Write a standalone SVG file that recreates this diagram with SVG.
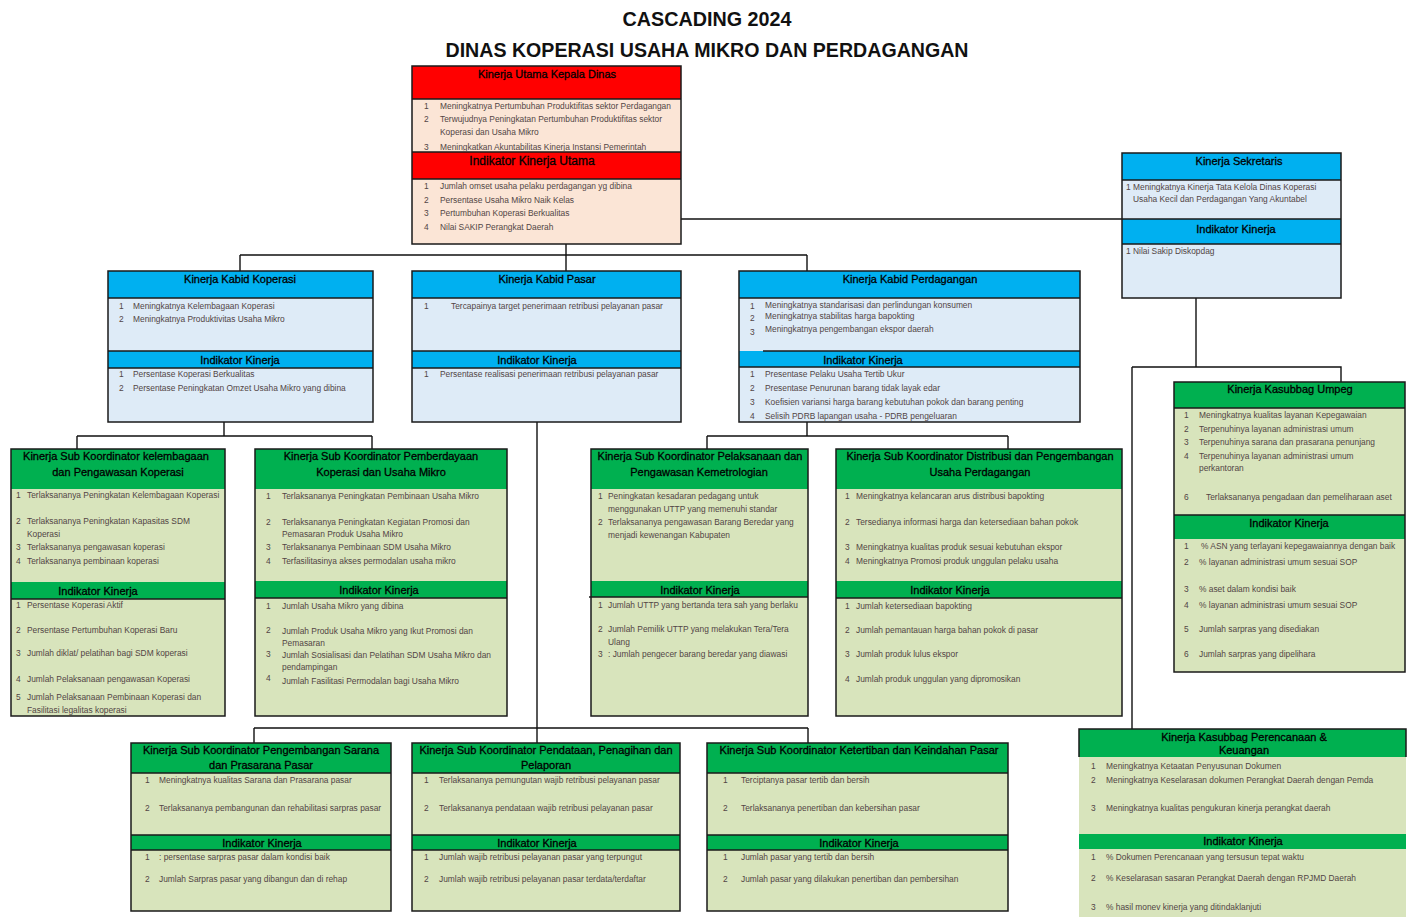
<svg xmlns="http://www.w3.org/2000/svg" width="1413" height="917" viewBox="0 0 1413 917">
<style>
.bg{fill:#ffffff}
.hr{fill:#ff0000}
.br{fill:#fbe5d6}
.hb{fill:#00b0f0}
.bb{fill:#deebf7}
.hg{fill:#00b050}
.bgr{fill:#d8e4bc}
.box{fill:none;stroke:#1a1a1a;stroke-width:1.5}
.sep{stroke:#1a1a1a;stroke-width:1.5}
.title{font-family:"Liberation Sans",Arial,sans-serif;font-weight:bold;font-size:20px;fill:#111;text-anchor:middle;dominant-baseline:central}
.h{font-family:"Liberation Sans",Arial,sans-serif;font-size:11px;fill:#000;stroke:#000;stroke-width:0.3;text-anchor:middle;dominant-baseline:central}
.t{font-family:"Liberation Sans",Arial,sans-serif;font-size:8.4px;fill:#524545;dominant-baseline:central}
.conn{stroke:#111;stroke-width:1.4;fill:none}
</style>
<rect class="bg" x="0" y="0" width="1413" height="917"/>

<g id="title">
<text class="title" x="707" y="19" textLength="169" lengthAdjust="spacingAndGlyphs">CASCADING 2024</text>
<text class="title" x="707" y="50" textLength="523" lengthAdjust="spacingAndGlyphs">DINAS KOPERASI USAHA MIKRO DAN PERDAGANGAN</text>
</g>

<g id="connectors">
<path class="conn" d="M681,219 H1122"/>
<path class="conn" d="M566,244 V271 M240,255 H807 M240,255 V271 M807,255 V271"/>
<path class="conn" d="M224,422 V436 M77,436 H372 M77,436 V449 M372,436 V449"/>
<path class="conn" d="M537,422 V743 M254,728 H808 M254,728 V743 M808,728 V743"/>
<path class="conn" d="M807,422 V436 M707,436 H1008 M707,436 V449 M1008,436 V449"/>
<path class="conn" d="M1196,298 V367 M1132,367 H1341 V382 M1132,367 V729"/>
</g>

<g id="kepala-dinas">
<rect class="hr" x="412" y="66" width="269" height="33"/>
<rect class="br" x="412" y="99" width="269" height="53"/>
<rect class="hr" x="412" y="152" width="269" height="27"/>
<rect class="br" x="412" y="179" width="269" height="65"/>
<rect class="box" x="412" y="66" width="269" height="178"/>
<path class="sep" d="M412,99 H681 M412,152 H681 M412,179 H681"/>
<text class="h" x="547" y="74">Kinerja Utama Kepala Dinas</text>
<text class="t" x="424" y="106">1</text><text class="t" x="440" y="106">Meningkatnya Pertumbuhan Produktifitas sektor Perdagangan</text>
<text class="t" x="424" y="119">2</text><text class="t" x="440" y="119">Terwujudnya Peningkatan Pertumbuhan Produktifitas sektor</text>
<text class="t" x="440" y="132">Koperasi dan Usaha Mikro</text>
<text class="t" x="424" y="147">3</text><text class="t" x="440" y="147">Meningkatkan Akuntabilitas Kinerja Instansi Pemerintah</text>
<text class="h" x="532" y="161" style="font-size:12px">Indikator Kinerja Utama</text>
<text class="t" x="424" y="186">1</text><text class="t" x="440" y="186">Jumlah omset usaha pelaku perdagangan yg dibina</text>
<text class="t" x="424" y="200">2</text><text class="t" x="440" y="200">Persentase Usaha Mikro Naik Kelas</text>
<text class="t" x="424" y="213">3</text><text class="t" x="440" y="213">Pertumbuhan Koperasi Berkualitas</text>
<text class="t" x="424" y="227">4</text><text class="t" x="440" y="227">Nilai SAKIP Perangkat Daerah</text>
</g>

<g id="sekretaris">
<rect class="hb" x="1122" y="153" width="219" height="27"/>
<rect class="bb" x="1122" y="180" width="219" height="39"/>
<rect class="hb" x="1122" y="219" width="219" height="25"/>
<rect class="bb" x="1122" y="244" width="219" height="54"/>
<rect class="box" x="1122" y="153" width="219" height="145"/>
<path class="sep" d="M1122,180 H1341 M1122,219 H1341 M1122,244 H1341"/>
<text class="h" x="1239" y="161">Kinerja Sekretaris</text>
<text class="t" x="1126" y="187">1</text><text class="t" x="1133" y="187">Meningkatnya Kinerja Tata Kelola Dinas Koperasi</text>
<text class="t" x="1133" y="199">Usaha Kecil dan Perdagangan Yang Akuntabel</text>
<text class="h" x="1236" y="229">Indikator Kinerja</text>
<text class="t" x="1126" y="251">1</text><text class="t" x="1133" y="251">Nilai Sakip Diskopdag</text>
</g>

<g id="kabid-koperasi">
<rect class="hb" x="108" y="271" width="265" height="27"/>
<rect class="bb" x="108" y="298" width="265" height="53"/>
<rect class="hb" x="108" y="351" width="265" height="17"/>
<rect class="bb" x="108" y="368" width="265" height="54"/>
<rect class="box" x="108" y="271" width="265" height="151"/>
<path class="sep" d="M108,298 H373 M108,351 H373 M108,368 H373"/>
<text class="h" x="240" y="279">Kinerja Kabid Koperasi</text>
<text class="t" x="119" y="306">1</text><text class="t" x="133" y="306">Meningkatnya Kelembagaan Koperasi</text>
<text class="t" x="119" y="319">2</text><text class="t" x="133" y="319">Meningkatnya Produktivitas Usaha Mikro</text>
<text class="h" x="240" y="360">Indikator Kinerja</text>
<text class="t" x="119" y="374">1</text><text class="t" x="133" y="374">Persentase Koperasi Berkualitas</text>
<text class="t" x="119" y="388">2</text><text class="t" x="133" y="388">Persentase Peningkatan Omzet Usaha Mikro yang dibina</text>
</g>

<g id="kabid-pasar">
<rect class="hb" x="412" y="271" width="269" height="27"/>
<rect class="bb" x="412" y="298" width="269" height="53"/>
<rect class="hb" x="412" y="351" width="269" height="17"/>
<rect class="bb" x="412" y="368" width="269" height="54"/>
<rect class="box" x="412" y="271" width="269" height="151"/>
<path class="sep" d="M412,298 H681 M412,351 H681 M412,368 H681"/>
<text class="h" x="547" y="279">Kinerja Kabid Pasar</text>
<text class="t" x="424" y="306">1</text><text class="t" x="451" y="306">Tercapainya target penerimaan retribusi pelayanan pasar</text>
<text class="h" x="537" y="360">Indikator Kinerja</text>
<text class="t" x="424" y="374">1</text><text class="t" x="440" y="374">Persentase realisasi penerimaan retribusi pelayanan pasar</text>
</g>

<g id="kabid-perdagangan">
<rect class="hb" x="739" y="271" width="341" height="27"/>
<rect class="bb" x="739" y="298" width="341" height="53"/>
<rect class="hb" x="739" y="351" width="341" height="16"/>
<rect class="bb" x="739" y="367" width="341" height="55"/>
<rect class="box" x="739" y="271" width="341" height="151"/>
<path class="sep" d="M739,298 H1080 M763,351 H1080 M739,367 H1080"/>
<text class="h" x="910" y="279">Kinerja Kabid Perdagangan</text>
<text class="t" x="750" y="306">1</text><text class="t" x="765" y="305">Meningkatnya standarisasi dan perlindungan konsumen</text>
<text class="t" x="750" y="318">2</text><text class="t" x="765" y="316">Meningkatnya stabilitas harga bapokting</text>
<text class="t" x="750" y="332">3</text><text class="t" x="765" y="329">Meningkatnya pengembangan ekspor daerah</text>
<text class="h" x="863" y="360">Indikator Kinerja</text>
<text class="t" x="750" y="374">1</text><text class="t" x="765" y="374">Presentase Pelaku Usaha Tertib Ukur</text>
<text class="t" x="750" y="388">2</text><text class="t" x="765" y="388">Presentase Penurunan barang tidak layak edar</text>
<text class="t" x="750" y="402">3</text><text class="t" x="765" y="402">Koefisien variansi harga barang kebutuhan pokok dan barang penting</text>
<text class="t" x="750" y="416">4</text><text class="t" x="765" y="416">Selisih PDRB lapangan usaha - PDRB pengeluaran</text>
</g>

<g id="kasubbag-umpeg">
<rect class="hg" x="1174" y="382" width="231" height="26"/>
<rect class="bgr" x="1174" y="408" width="231" height="107"/>
<rect class="hg" x="1174" y="515" width="231" height="24"/>
<rect class="bgr" x="1174" y="539" width="231" height="133"/>
<rect class="box" x="1174" y="382" width="231" height="290"/>
<path class="sep" d="M1174,408 H1405 M1174,515 H1405"/>
<text class="h" x="1290" y="389">Kinerja Kasubbag Umpeg</text>
<text class="t" x="1184" y="415">1</text><text class="t" x="1199" y="415">Meningkatnya kualitas layanan Kepegawaian</text>
<text class="t" x="1184" y="429">2</text><text class="t" x="1199" y="429">Terpenuhinya layanan administrasi umum</text>
<text class="t" x="1184" y="442">3</text><text class="t" x="1199" y="442">Terpenuhinya sarana dan prasarana penunjang</text>
<text class="t" x="1184" y="456">4</text><text class="t" x="1199" y="456">Terpenuhinya layanan administrasi umum</text>
<text class="t" x="1199" y="468">perkantoran</text>
<text class="t" x="1184" y="497">6</text><text class="t" x="1206" y="497">Terlaksananya pengadaan dan pemeliharaan aset</text>
<text class="h" x="1289" y="523">Indikator Kinerja</text>
<text class="t" x="1184" y="546">1</text><text class="t" x="1201" y="546">% ASN yang terlayani kepegawaiannya dengan baik</text>
<text class="t" x="1184" y="562">2</text><text class="t" x="1199" y="562">% layanan administrasi umum sesuai SOP</text>
<text class="t" x="1184" y="589">3</text><text class="t" x="1199" y="589">% aset dalam kondisi baik</text>
<text class="t" x="1184" y="605">4</text><text class="t" x="1199" y="605">% layanan administrasi umum sesuai SOP</text>
<text class="t" x="1184" y="629">5</text><text class="t" x="1199" y="629">Jumlah sarpras yang disediakan</text>
<text class="t" x="1184" y="654">6</text><text class="t" x="1199" y="654">Jumlah sarpras yang dipelihara</text>
</g>

<g id="sub-kelembagaan">
<rect class="hg" x="11" y="449" width="214" height="40"/>
<rect class="bgr" x="11" y="489" width="214" height="93"/>
<rect class="hg" x="11" y="582" width="214" height="17"/>
<rect class="bgr" x="11" y="599" width="214" height="117"/>
<rect class="box" x="11" y="449" width="214" height="267"/>
<path class="sep" d="M11,599 H225"/>
<text class="h" x="116" y="456">Kinerja Sub Koordinator kelembagaan</text>
<text class="h" x="118" y="472">dan Pengawasan Koperasi</text>
<text class="t" x="16" y="495">1</text><text class="t" x="27" y="495">Terlaksananya Peningkatan Kelembagaan Koperasi</text>
<text class="t" x="16" y="521">2</text><text class="t" x="27" y="521">Terlaksananya Peningkatan Kapasitas SDM</text>
<text class="t" x="27" y="534">Koperasi</text>
<text class="t" x="16" y="547">3</text><text class="t" x="27" y="547">Terlaksananya pengawasan koperasi</text>
<text class="t" x="16" y="561">4</text><text class="t" x="27" y="561">Terlaksananya pembinaan koperasi</text>
<text class="h" x="98" y="591">Indikator Kinerja</text>
<text class="t" x="16" y="605">1</text><text class="t" x="27" y="605">Persentase Koperasi Aktif</text>
<text class="t" x="16" y="630">2</text><text class="t" x="27" y="630">Persentase Pertumbuhan Koperasi Baru</text>
<text class="t" x="16" y="653">3</text><text class="t" x="27" y="653">Jumlah diklat/ pelatihan bagi SDM koperasi</text>
<text class="t" x="16" y="679">4</text><text class="t" x="27" y="679">Jumlah Pelaksanaan pengawasan Koperasi</text>
<text class="t" x="16" y="697">5</text><text class="t" x="27" y="697">Jumlah Pelaksanaan Pembinaan Koperasi dan</text>
<text class="t" x="27" y="710">Fasilitasi legalitas koperasi</text>
</g>

<g id="sub-pemberdayaan">
<rect class="hg" x="255" y="449" width="252" height="40"/>
<rect class="bgr" x="255" y="489" width="252" height="92"/>
<rect class="hg" x="255" y="581" width="252" height="17"/>
<rect class="bgr" x="255" y="598" width="252" height="118"/>
<rect class="box" x="255" y="449" width="252" height="267"/>
<path class="sep" d="M255,598 H507"/>
<text class="h" x="381" y="456">Kinerja Sub Koordinator Pemberdayaan</text>
<text class="h" x="381" y="472">Koperasi dan Usaha Mikro</text>
<text class="t" x="266" y="496">1</text><text class="t" x="282" y="496">Terlaksananya Peningkatan Pembinaan Usaha Mikro</text>
<text class="t" x="266" y="522">2</text><text class="t" x="282" y="522">Terlaksananya Peningkatan Kegiatan Promosi dan</text>
<text class="t" x="282" y="534">Pemasaran Produk Usaha Mikro</text>
<text class="t" x="266" y="547">3</text><text class="t" x="282" y="547">Terlaksananya Pembinaan SDM Usaha Mikro</text>
<text class="t" x="266" y="561">4</text><text class="t" x="282" y="561">Terfasilitasinya akses permodalan usaha mikro</text>
<text class="h" x="379" y="590">Indikator Kinerja</text>
<text class="t" x="266" y="606">1</text><text class="t" x="282" y="606">Jumlah Usaha Mikro yang dibina</text>
<text class="t" x="266" y="630">2</text><text class="t" x="282" y="631">Jumlah Produk Usaha Mikro yang Ikut Promosi dan</text>
<text class="t" x="282" y="643">Pemasaran</text>
<text class="t" x="266" y="654">3</text><text class="t" x="282" y="655">Jumlah Sosialisasi dan Pelatihan SDM Usaha Mikro dan</text>
<text class="t" x="282" y="667">pendampingan</text>
<text class="t" x="266" y="678">4</text><text class="t" x="282" y="681">Jumlah Fasilitasi Permodalan bagi Usaha Mikro</text>
</g>

<g id="sub-kemetrologian">
<rect class="hg" x="591" y="449" width="217" height="40"/>
<rect class="bgr" x="591" y="489" width="217" height="92"/>
<rect class="hg" x="591" y="581" width="217" height="16"/>
<rect class="bgr" x="591" y="597" width="217" height="119"/>
<rect class="box" x="591" y="449" width="217" height="267"/>
<path class="sep" d="M589,597 H808"/>
<text class="h" x="700" y="456">Kinerja Sub Koordinator Pelaksanaan dan</text>
<text class="h" x="699" y="472">Pengawasan Kemetrologian</text>
<text class="t" x="598" y="496">1</text><text class="t" x="608" y="496">Peningkatan kesadaran pedagang untuk</text>
<text class="t" x="608" y="509">menggunakan UTTP yang memenuhi standar</text>
<text class="t" x="598" y="522">2</text><text class="t" x="608" y="522">Terlaksananya pengawasan Barang Beredar yang</text>
<text class="t" x="608" y="535">menjadi kewenangan Kabupaten</text>
<text class="h" x="700" y="590">Indikator Kinerja</text>
<text class="t" x="598" y="605">1</text><text class="t" x="608" y="605">Jumlah UTTP yang bertanda tera sah yang berlaku</text>
<text class="t" x="598" y="629">2</text><text class="t" x="608" y="629">Jumlah Pemilik UTTP yang melakukan Tera/Tera</text>
<text class="t" x="608" y="642">Ulang</text>
<text class="t" x="598" y="654">3</text><text class="t" x="608" y="654">: Jumlah pengecer barang beredar yang diawasi</text>
</g>

<g id="sub-distribusi">
<rect class="hg" x="836" y="449" width="286" height="40"/>
<rect class="bgr" x="836" y="489" width="286" height="92"/>
<rect class="hg" x="836" y="581" width="286" height="17"/>
<rect class="bgr" x="836" y="598" width="286" height="118"/>
<rect class="box" x="836" y="449" width="286" height="267"/>
<path class="sep" d="M836,598 H1122"/>
<text class="h" x="980" y="456">Kinerja Sub Koordinator Distribusi dan Pengembangan</text>
<text class="h" x="980" y="472">Usaha Perdagangan</text>
<text class="t" x="845" y="496">1</text><text class="t" x="856" y="496">Meningkatnya kelancaran arus distribusi bapokting</text>
<text class="t" x="845" y="522">2</text><text class="t" x="856" y="522">Tersedianya informasi harga dan ketersediaan bahan pokok</text>
<text class="t" x="845" y="547">3</text><text class="t" x="856" y="547">Meningkatnya kualitas produk sesuai kebutuhan ekspor</text>
<text class="t" x="845" y="561">4</text><text class="t" x="856" y="561">Meningkatnya Promosi produk unggulan pelaku usaha</text>
<text class="h" x="950" y="590">Indikator Kinerja</text>
<text class="t" x="845" y="606">1</text><text class="t" x="856" y="606">Jumlah ketersediaan bapokting</text>
<text class="t" x="845" y="630">2</text><text class="t" x="856" y="630">Jumlah pemantauan harga bahan pokok di pasar</text>
<text class="t" x="845" y="654">3</text><text class="t" x="856" y="654">Jumlah produk lulus ekspor</text>
<text class="t" x="845" y="679">4</text><text class="t" x="856" y="679">Jumlah produk unggulan yang dipromosikan</text>
</g>

<g id="sub-sarana-pasar">
<rect class="hg" x="131" y="743" width="260" height="30"/>
<rect class="bgr" x="131" y="773" width="260" height="62"/>
<rect class="hg" x="131" y="835" width="260" height="15"/>
<rect class="bgr" x="131" y="850" width="260" height="61"/>
<rect class="box" x="131" y="743" width="260" height="168"/>
<path class="sep" d="M131,773 H391 M131,835 H391 M131,850 H391"/>
<text class="h" x="261" y="750">Kinerja Sub Koordinator Pengembangan Sarana</text>
<text class="h" x="261" y="765">dan Prasarana Pasar</text>
<text class="t" x="145" y="780">1</text><text class="t" x="159" y="780">Meningkatnya kualitas Sarana dan Prasarana pasar</text>
<text class="t" x="145" y="808">2</text><text class="t" x="159" y="808">Terlaksananya pembangunan dan rehabilitasi sarpras pasar</text>
<text class="h" x="262" y="843">Indikator Kinerja</text>
<text class="t" x="145" y="857">1</text><text class="t" x="159" y="857">: persentase sarpras pasar dalam kondisi baik</text>
<text class="t" x="145" y="879">2</text><text class="t" x="159" y="879">Jumlah Sarpras pasar yang dibangun dan di rehap</text>
</g>

<g id="sub-pendataan">
<rect class="hg" x="412" y="743" width="268" height="30"/>
<rect class="bgr" x="412" y="773" width="268" height="62"/>
<rect class="hg" x="412" y="835" width="268" height="15"/>
<rect class="bgr" x="412" y="850" width="268" height="61"/>
<rect class="box" x="412" y="743" width="268" height="168"/>
<path class="sep" d="M412,773 H680 M412,835 H680 M412,850 H680"/>
<text class="h" x="546" y="750">Kinerja Sub Koordinator Pendataan, Penagihan dan</text>
<text class="h" x="546" y="765">Pelaporan</text>
<text class="t" x="424" y="780">1</text><text class="t" x="439" y="780">Terlaksananya pemungutan wajib retribusi pelayanan pasar</text>
<text class="t" x="424" y="808">2</text><text class="t" x="439" y="808">Terlaksananya pendataan wajib retribusi pelayanan pasar</text>
<text class="h" x="537" y="843">Indikator Kinerja</text>
<text class="t" x="424" y="857">1</text><text class="t" x="439" y="857">Jumlah wajib retribusi pelayanan pasar yang terpungut</text>
<text class="t" x="424" y="879">2</text><text class="t" x="439" y="879">Jumlah wajib retribusi pelayanan pasar terdata/terdaftar</text>
</g>

<g id="sub-ketertiban">
<rect class="hg" x="707" y="743" width="301" height="30"/>
<rect class="bgr" x="707" y="773" width="301" height="62"/>
<rect class="hg" x="707" y="835" width="301" height="15"/>
<rect class="bgr" x="707" y="850" width="301" height="61"/>
<rect class="box" x="707" y="743" width="301" height="168"/>
<path class="sep" d="M707,773 H1008 M707,835 H1008 M707,850 H1008"/>
<text class="h" x="859" y="750">Kinerja Sub Koordinator Ketertiban dan Keindahan Pasar</text>
<text class="t" x="723" y="780">1</text><text class="t" x="741" y="780">Terciptanya pasar tertib dan bersih</text>
<text class="t" x="723" y="808">2</text><text class="t" x="741" y="808">Terlaksananya penertiban dan kebersihan pasar</text>
<text class="h" x="859" y="843">Indikator Kinerja</text>
<text class="t" x="723" y="857">1</text><text class="t" x="741" y="857">Jumlah pasar yang tertib dan bersih</text>
<text class="t" x="723" y="879">2</text><text class="t" x="741" y="879">Jumlah pasar yang dilakukan penertiban dan pembersihan</text>
</g>

<g id="kasubbag-perencanaan">
<rect class="hg" x="1079" y="729" width="327" height="28"/>
<rect class="bgr" x="1079" y="757" width="327" height="77"/>
<rect class="hg" x="1079" y="834" width="327" height="15"/>
<rect class="bgr" x="1079" y="849" width="327" height="68"/>
<path class="box" d="M1079,757 V729 H1406 V757"/>
<text class="h" x="1244" y="737">Kinerja Kasubbag Perencanaan &amp;</text>
<text class="h" x="1244" y="750">Keuangan</text>
<text class="t" x="1091" y="766">1</text><text class="t" x="1106" y="766">Meningkatnya Ketaatan Penyusunan Dokumen</text>
<text class="t" x="1091" y="780">2</text><text class="t" x="1106" y="780">Meningkatnya Keselarasan dokumen Perangkat Daerah dengan Pemda</text>
<text class="t" x="1091" y="808">3</text><text class="t" x="1106" y="808">Meningkatnya kualitas pengukuran kinerja perangkat daerah</text>
<text class="h" x="1243" y="841">Indikator Kinerja</text>
<text class="t" x="1091" y="857">1</text><text class="t" x="1106" y="857">% Dokumen Perencanaan yang tersusun tepat waktu</text>
<text class="t" x="1091" y="878">2</text><text class="t" x="1106" y="878">% Keselarasan sasaran Perangkat Daerah dengan RPJMD Daerah</text>
<text class="t" x="1091" y="907">3</text><text class="t" x="1106" y="907">% hasil monev kinerja yang ditindaklanjuti</text>
</g>
</svg>
